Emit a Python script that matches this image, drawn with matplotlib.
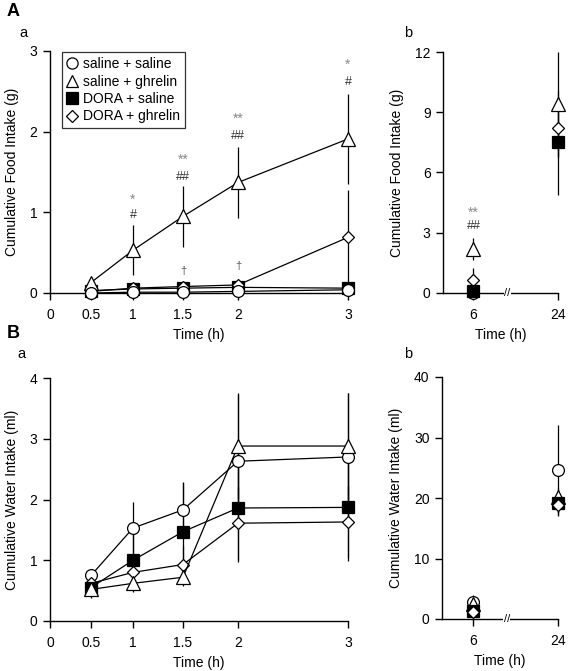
import numpy as np
import matplotlib
matplotlib.use("Agg")
import matplotlib.pyplot as plt
from matplotlib.lines import Line2D

plt.rcParams['font.family'] = ['Liberation Sans', 'DejaVu Sans']
plt.rcParams['font.size'] = 10

# ---- data -------------------------------------------------------------
groups = ["saline + saline", "saline + ghrelin", "DORA + saline", "DORA + ghrelin"]
markers = ["o", "^", "s", "D"]
faces = ["white", "white", "black", "white"]
msizes = [8.5, 9.5, 8.5, 6.5]

t_short = [0.5, 1, 1.5, 2, 3]
t_short_ticks = [0, 0.5, 1, 1.5, 2, 3]
t_long = ["6", "24"]

# A a: cumulative food intake (g), 0.5-3 h
food_short = [
    [0.00, 0.01, 0.01, 0.02, 0.04],
    [0.13, 0.53, 0.95, 1.37, 1.91],
    [0.03, 0.05, 0.06, 0.07, 0.06],
    [0.02, 0.06, 0.08, 0.10, 0.69],
]
food_short_err = [
    [0.01, 0.01, 0.01, 0.01, 0.02],
    [0.03, 0.31, 0.38, 0.44, 0.56],
    [0.01, 0.02, 0.02, 0.02, 0.02],
    [0.01, 0.02, 0.02, 0.03, 0.59],
]
# A b: cumulative food intake (g), 6 and 24 h
food_long = [
    [0.0, 7.5],
    [2.2, 9.4],
    [0.1, 7.5],
    [0.65, 8.2],
]
food_long_err = [
    [0.05, 0.0],
    [0.55, 2.6],
    [0.05, 2.6],
    [0.6, 1.5],
]

# B a: cumulative water intake (ml), 0.5-3 h
water_short = [
    [0.75, 1.53, 1.83, 2.63, 2.70],
    [0.52, 0.62, 0.72, 2.88, 2.88],
    [0.55, 1.00, 1.47, 1.86, 1.87],
    [0.62, 0.80, 0.93, 1.61, 1.63],
]
water_short_err = [
    [0.10, 0.43, 0.45, 1.10, 1.05],
    [0.14, 0.14, 0.14, 0.87, 0.87],
    [0.05, 0.45, 0.80, 0.89, 0.89],
    [0.05, 0.20, 0.30, 0.60, 0.60],
]
# B b: cumulative water intake (ml), 6 and 24 h
water_long = [
    [2.8, 24.6],
    [2.5, 20.2],
    [1.4, 19.1],
    [1.1, 18.9],
]
water_long_err = [
    [1.1, 7.4],
    [0.8, 1.5],
    [0.5, 1.5],
    [0.4, 1.8],
]

# significance marks: (x, y, text, colour, size)
sig_food_short = [
    (1, 1.16, "*", "#888888", 10), (1, 0.97, "#", "#333333", 9),
    (1.5, 1.65, "**", "#888888", 10), (1.5, 1.44, "##", "#333333", 9),
    (2, 2.16, "**", "#888888", 10), (2, 1.95, "##", "#333333", 9),
    (3, 2.83, "*", "#888888", 10), (3, 2.62, "#", "#333333", 9),
    (1.5, 0.27, "\u2020", "#555555", 8), (2, 0.33, "\u2020", "#555555", 8),
]
sig_food_long = [
    (0, 4.0, "**", "#888888", 10), (0, 3.34, "##", "#333333", 9),
]

# ---- helpers ------------------------------------------------------------
# the time axis in panels a is drawn with uneven spacing in the original
knot_t = [-1, 0, 0.5, 1, 1.5, 2, 3, 4]
knot_p = [-82, 0, 41, 83, 133, 188, 298, 408]


def fwd(x):
    return np.interp(x, knot_t, knot_p)


def inv(p):
    return np.interp(p, knot_p, knot_t)


def style_axes(ax):
    ax.spines['top'].set_visible(False)
    ax.spines['right'].set_visible(False)
    ax.spines['left'].set_linewidth(1.0)
    ax.spines['bottom'].set_linewidth(1.0)
    ax.tick_params(direction='out', length=5, width=1.0, labelsize=10, pad=4)
    ax.tick_params(axis='x', pad=6)


def draw_series(ax, x, ys, errs, order, lines=True):
    for i in range(len(ys)):
        ax.errorbar(x, ys[i], yerr=errs[i], fmt='none', ecolor='black',
                    elinewidth=0.9, capsize=0, zorder=1, clip_on=False)
    for i in range(len(ys)):
        ax.plot(x, ys[i], ls='-' if lines else 'none', color='black', lw=0.9,
                marker=markers[i], ms=msizes[i], mfc=faces[i], mec='black',
                mew=0.9, zorder=order[i], clip_on=False)


def short_panel(ax, ys, errs, ylim, yticks, ylabel, order):
    ax.set_xscale('function', functions=(fwd, inv))
    draw_series(ax, t_short, ys, errs, order)
    ax.set_xlim(0, 3)
    ax.set_ylim(*ylim)
    ax.set_xticks(t_short_ticks)
    ax.set_xticklabels([("%g" % v) for v in t_short_ticks])
    ax.set_yticks(yticks)
    ax.set_xlabel("Time (h)", labelpad=4)
    ax.set_ylabel(ylabel, labelpad=8)
    style_axes(ax)


def long_panel(ax, ys, errs, ylim, yticks, ylabel, order):
    pos = np.arange(len(t_long))
    draw_series(ax, pos, ys, errs, order, lines=False)
    ax.set_xlim(-0.36, 1.0)
    ax.set_ylim(*ylim)
    ax.set_xticks(pos)
    ax.set_xticklabels(t_long)
    ax.set_yticks(yticks)
    ax.set_xlabel("Time (h)", labelpad=4)
    ax.set_ylabel(ylabel, labelpad=8)
    style_axes(ax)
    ax.text(0.4, ylim[0], "//", ha='center', va='center', fontsize=8,
            bbox=dict(facecolor='white', edgecolor='none', pad=0.3), zorder=5,
            clip_on=False)


fig = plt.figure(figsize=(5.68, 6.71), dpi=100)

ax1 = fig.add_axes([50 / 568, 1 - 293 / 671, 298 / 568, 242 / 671])
ax2 = fig.add_axes([443 / 568, 1 - 293 / 671, 115 / 568, 241 / 671])
ax3 = fig.add_axes([50 / 568, 1 - 621 / 671, 298 / 568, 243 / 671])
ax4 = fig.add_axes([442 / 568, 1 - 619 / 671, 116 / 568, 242 / 671])

food_order = [3.6, 3.4, 3.0, 3.2]
water_order = [3.0, 3.6, 3.4, 3.2]
short_panel(ax1, food_short, food_short_err, (0, 3), [0, 1, 2, 3],
            "Cumulative Food Intake (g)", food_order)
long_panel(ax2, food_long, food_long_err, (0, 12), [0, 3, 6, 9, 12],
           "Cumulative Food Intake (g)", [3.0, 3.6, 3.4, 3.2])
short_panel(ax3, water_short, water_short_err, (0, 4), [0, 1, 2, 3, 4],
            "Cumulative Water Intake (ml)", water_order)
long_panel(ax4, water_long, water_long_err, (0, 40), [0, 10, 20, 30, 40],
           "Cumulative Water Intake (ml)", [3.0, 3.2, 3.4, 3.6])

for x, y, s, c, fs in sig_food_short:
    ax1.text(x, y, s, ha='center', va='center', fontsize=fs, color=c)
for x, y, s, c, fs in sig_food_long:
    ax2.text(x, y, s, ha='center', va='center', fontsize=fs, color=c)

handles = [Line2D([], [], ls='none', marker=markers[i], ms=msizes[i] * 0.95,
                  mfc=faces[i], mec='black', mew=0.9) for i in range(4)]
leg = ax1.legend(handles, groups, loc='upper left', bbox_to_anchor=(0.04, 0.995),
                 borderaxespad=0, frameon=True, fancybox=False, fontsize=10,
                 handlelength=0.8, handletextpad=0.4, labelspacing=0.25,
                 borderpad=0.35)
leg.get_frame().set_edgecolor('black')
leg.get_frame().set_linewidth(0.9)

fig.text(7 / 568, 1 - 12 / 671, "A", fontsize=13, fontweight='bold', ha='left', va='center')
fig.text(23 / 568, 1 - 33 / 671, "a", fontsize=10.5, ha='center', va='center')
fig.text(408 / 568, 1 - 33 / 671, "b", fontsize=10.5, ha='center', va='center')
fig.text(7 / 568, 1 - 333 / 671, "B", fontsize=13, fontweight='bold', ha='left', va='center')
fig.text(21 / 568, 1 - 354 / 671, "a", fontsize=10.5, ha='center', va='center')
fig.text(408 / 568, 1 - 354 / 671, "b", fontsize=10.5, ha='center', va='center')

fig.savefig("out.png", dpi=100)
